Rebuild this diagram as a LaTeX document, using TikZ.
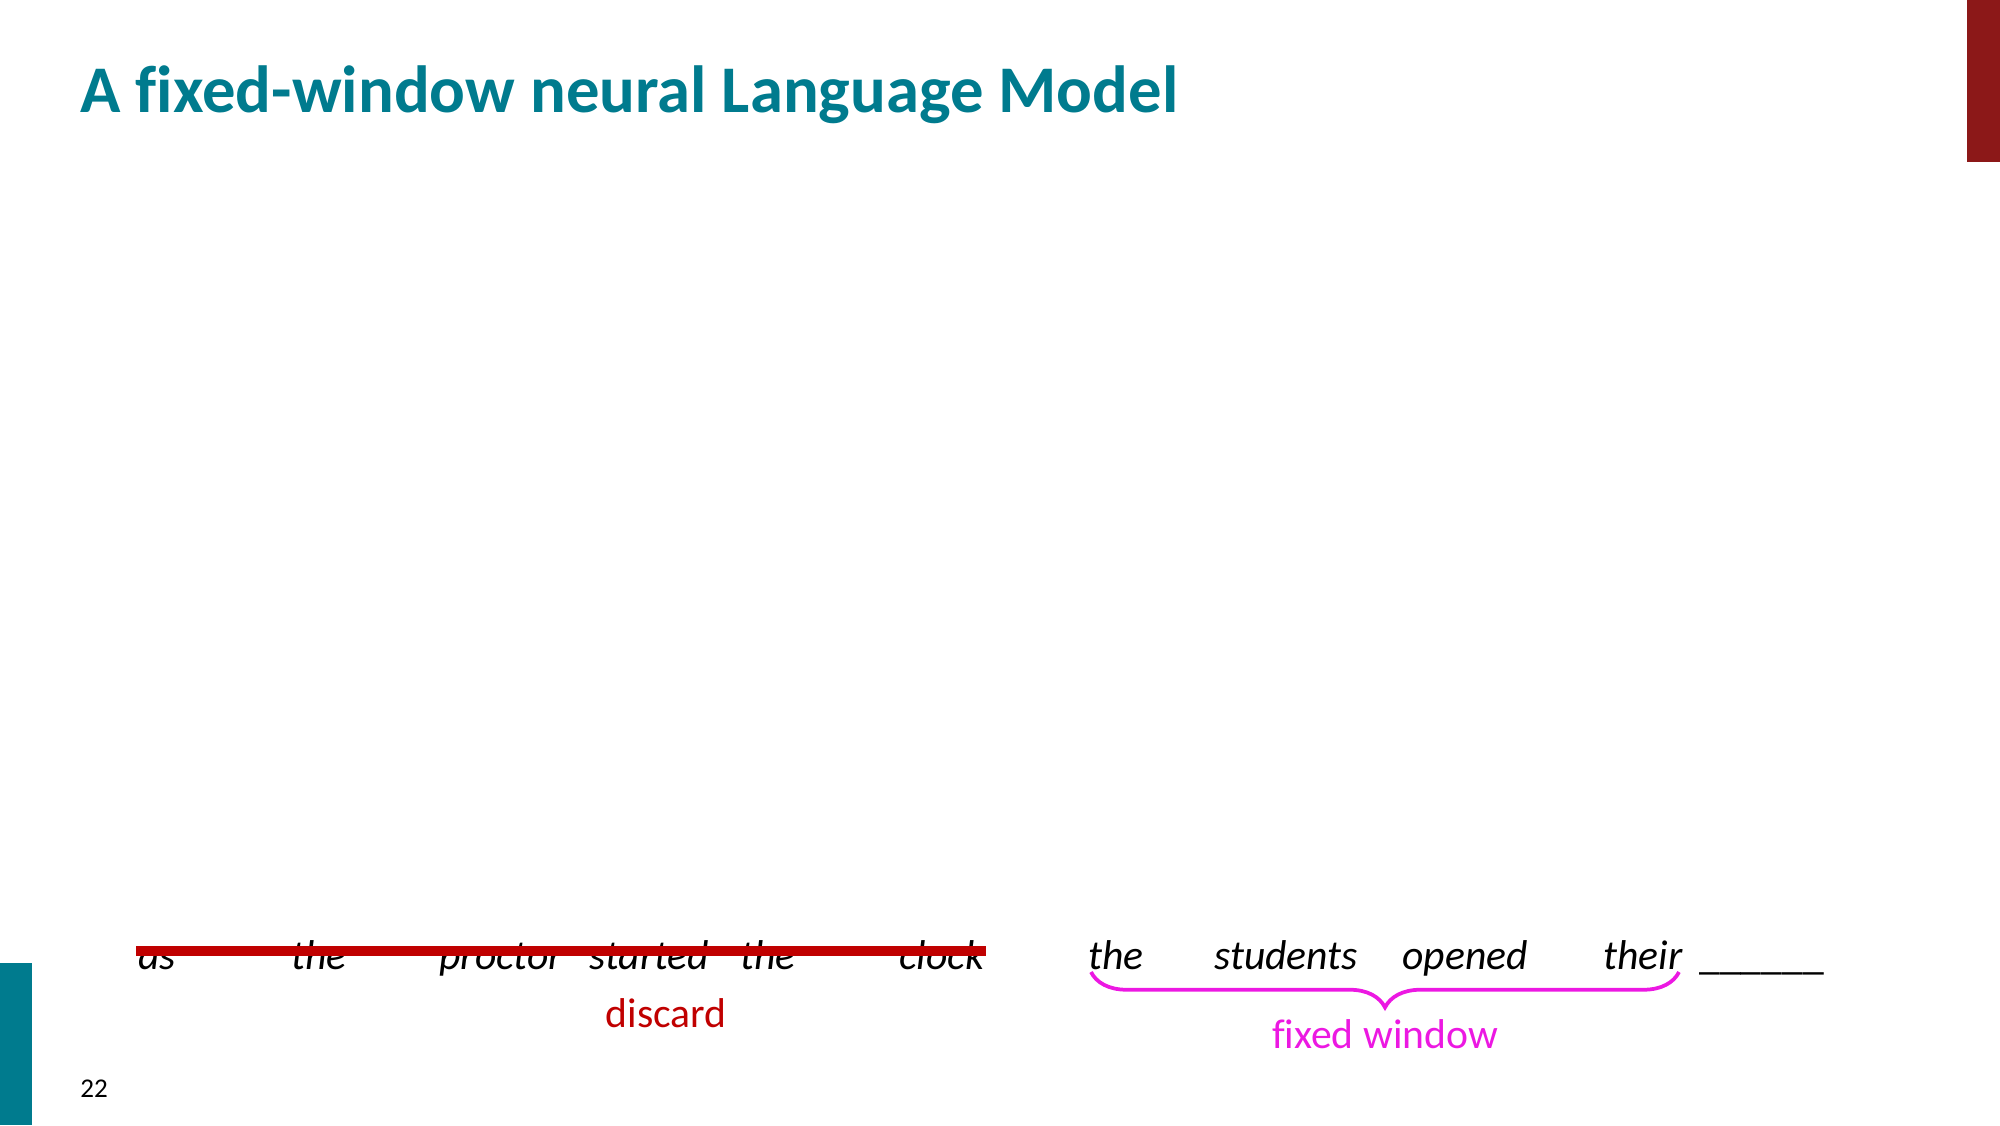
\documentclass[tikz,border=0pt]{standalone}
\usepackage{fontspec}
\setmainfont[Ligatures=NoCommon]{Carlito}
\usetikzlibrary{decorations.pathreplacing}

\definecolor{slideteal}{RGB}{0,123,142}
\definecolor{slidered}{RGB}{140,24,24}
\definecolor{discardred}{RGB}{192,0,0}
\definecolor{windowpink}{RGB}{236,24,226}

\begin{document}
\begin{tikzpicture}[
    x=0.48pt, y=-0.48pt,
    word_style/.style={anchor=base west, inner sep=0pt, font=\fontsize{20}{24}\selectfont\itshape},
    note_style/.style={anchor=base, inner sep=0pt, font=\fontsize{20}{24}\selectfont},
    strike_line/.style={discardred, line width=4.5pt},
    window_brace/.style={windowpink, line width=1.8pt, decorate,
        decoration={brace, mirror, amplitude=17pt}}
]

    % --- page frame ---
    \useasboundingbox (0,0) rectangle (2000,1125);
    \fill[slideteal] (0,963) rectangle (32,1125);
    \fill[slidered] (1967,0) rectangle (2000,162);

    \node[anchor=base west, inner sep=0pt, slideteal,
        font=\fontsize{32}{38}\selectfont\bfseries] (title) at (80,112)
        {A fixed-window neural Language Model};
    \node[anchor=base west, inner sep=0pt, font=\fontsize{13}{15}\selectfont]
        (page_no) at (80,1097) {22};

    % --- the sentence ---
    \node[word_style] (w_as) at (138,969) {as};
    \node[word_style] (w_the1) at (291,969) {the};
    \node[word_style] (w_proctor) at (439,969) {proctor};
    \node[word_style] (w_started) at (589,969) {started};
    \node[word_style] (w_the2) at (740,969) {the};
    \node[word_style] (w_clock) at (899,969) {clock};
    \node[word_style] (w_the3) at (1088,969) {the};
    \node[word_style] (w_students) at (1214,969) {students};
    \node[word_style] (w_opened) at (1402,969) {opened};
    \node[word_style] (w_their) at (1603,969) {their};
    \node[word_style, font=\fontsize{20}{24}\selectfont] (w_blank) at (1699,969) {\_\_\_\_\_\_};

    % --- discarded part ---
    \coordinate (strike_start) at (136,951);
    \coordinate (strike_end) at (986,951);
    \draw[strike_line] (strike_start) -- (strike_end);
    \node[note_style, discardred] (discard) at (666,1027) {discard};

    % --- fixed window ---
    \coordinate (brace_start) at (1091,972);
    \coordinate (brace_end) at (1679,972);
    \draw[window_brace] (brace_start) -- (brace_end);
    \node[note_style, windowpink] (window) at (1385,1048) {fixed window};

\end{tikzpicture}
\end{document}
